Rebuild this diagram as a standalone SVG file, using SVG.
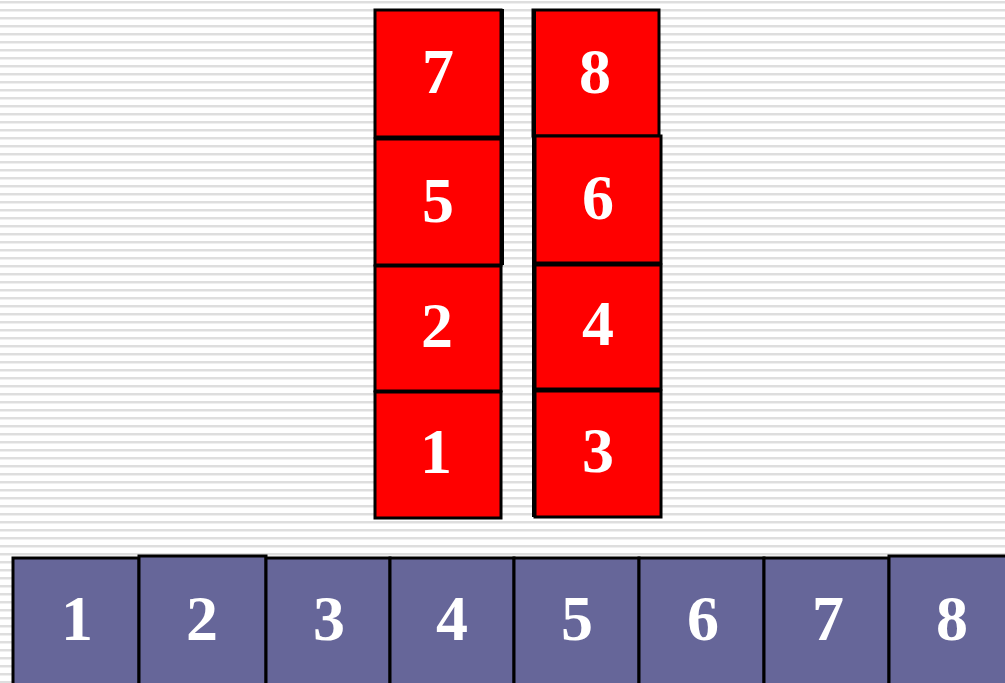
<svg xmlns="http://www.w3.org/2000/svg" width="1005" height="683" viewBox="0 0 1005 683">
<style>
.r{fill:#ff0000;stroke:#000;stroke-width:3}
.p{fill:#666699;stroke:#000;stroke-width:3}
.e{stroke:#000;stroke-width:4;fill:none}
.t{font-family:"Liberation Serif",serif;font-weight:bold;font-size:64px;fill:#fff;text-anchor:middle}
</style>
<defs>
<pattern id="bg" width="8" height="8" patternUnits="userSpaceOnUse">
<rect width="8" height="8" fill="#ffffff"/>
<rect y="1" width="8" height="2" fill="#dedede"/>
<rect y="3" width="8" height="1" fill="#efefef"/>
</pattern>
</defs>
<rect width="1005" height="683" fill="url(#bg)"/>
<g id="stack-left">
<g id="L7"><rect class="r" x="375" y="10" width="126" height="127"/><text class="t" x="438" y="93">7</text></g>
<g id="L5"><rect class="r" x="375" y="139" width="126" height="126"/><text class="t" x="438" y="222">5</text></g>
<g id="L2"><rect class="r" x="375" y="266" width="126" height="125"/><text class="t" x="437" y="347">2</text></g>
<g id="L1"><rect class="r" x="375" y="392" width="126" height="126"/><text class="t" x="436" y="473">1</text></g>
<path class="e" d="M502 9V265"/>
</g>
<g id="stack-right">
<g id="R8"><rect class="r" x="533" y="10" width="126" height="126"/><text class="t" x="595" y="93">8</text></g>
<g id="R6"><rect class="r" x="535" y="136" width="126" height="127"/><text class="t" x="598" y="219">6</text></g>
<g id="R4"><rect class="r" x="535" y="265" width="126" height="124"/><text class="t" x="598" y="345">4</text></g>
<g id="R3"><rect class="r" x="535" y="391" width="126" height="126"/><text class="t" x="598" y="472">3</text></g>
<path class="e" d="M534 9V517"/>
</g>
<g id="row">
<g id="B1"><rect class="p" x="13" y="558" width="126" height="130"/><text class="t" x="77" y="640">1</text></g>
<g id="B2"><rect class="p" x="139" y="556" width="127" height="132"/><text class="t" x="202" y="640">2</text></g>
<g id="B3"><rect class="p" x="266" y="558" width="124" height="130"/><text class="t" x="329" y="640">3</text></g>
<g id="B4"><rect class="p" x="390" y="558" width="124" height="130"/><text class="t" x="452" y="640">4</text></g>
<g id="B5"><rect class="p" x="514" y="558" width="125" height="130"/><text class="t" x="577" y="640">5</text></g>
<g id="B6"><rect class="p" x="639" y="558" width="125" height="130"/><text class="t" x="703" y="640">6</text></g>
<g id="B7"><rect class="p" x="764" y="558" width="125" height="130"/><text class="t" x="828" y="640">7</text></g>
<g id="B8"><rect class="p" x="889" y="556" width="125" height="132"/><text class="t" x="952" y="640">8</text></g>
</g>
<g id="connectors"/>
</svg>
